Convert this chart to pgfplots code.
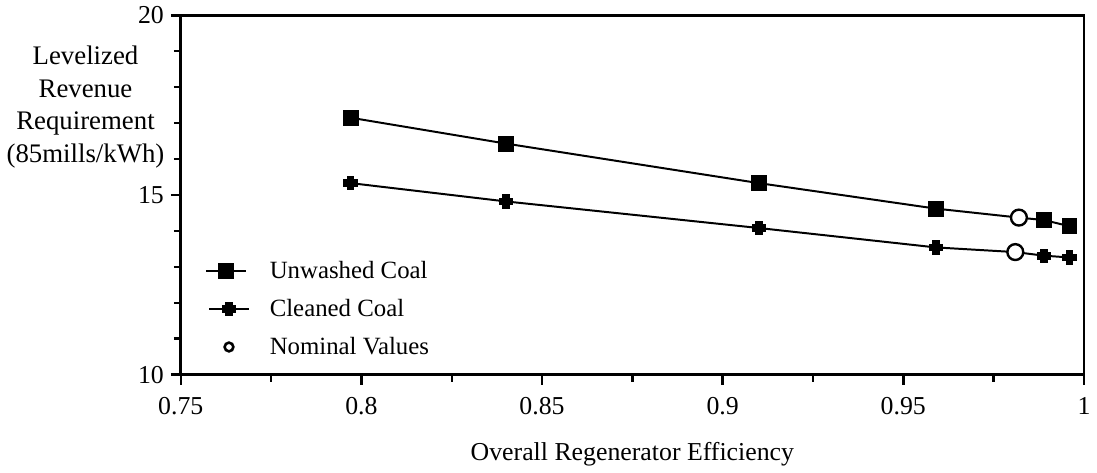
\documentclass[border=0pt]{standalone}
\usepackage{fontspec}
\setmainfont{Liberation Serif}
\usepackage{pgfplots}
\pgfplotsset{compat=1.18}

% chunky cross marker used for the cleaned coal series
\pgfdeclareplotmark{fatcross}{%
  \pgfpathmoveto{\pgfqpoint{-0.5\pgfplotmarksize}{-\pgfplotmarksize}}%
  \pgfpathlineto{\pgfqpoint{0.5\pgfplotmarksize}{-\pgfplotmarksize}}%
  \pgfpathlineto{\pgfqpoint{0.5\pgfplotmarksize}{-0.5\pgfplotmarksize}}%
  \pgfpathlineto{\pgfqpoint{\pgfplotmarksize}{-0.5\pgfplotmarksize}}%
  \pgfpathlineto{\pgfqpoint{\pgfplotmarksize}{0.5\pgfplotmarksize}}%
  \pgfpathlineto{\pgfqpoint{0.5\pgfplotmarksize}{0.5\pgfplotmarksize}}%
  \pgfpathlineto{\pgfqpoint{0.5\pgfplotmarksize}{\pgfplotmarksize}}%
  \pgfpathlineto{\pgfqpoint{-0.5\pgfplotmarksize}{\pgfplotmarksize}}%
  \pgfpathlineto{\pgfqpoint{-0.5\pgfplotmarksize}{0.5\pgfplotmarksize}}%
  \pgfpathlineto{\pgfqpoint{-\pgfplotmarksize}{0.5\pgfplotmarksize}}%
  \pgfpathlineto{\pgfqpoint{-\pgfplotmarksize}{-0.5\pgfplotmarksize}}%
  \pgfpathlineto{\pgfqpoint{-0.5\pgfplotmarksize}{-0.5\pgfplotmarksize}}%
  \pgfpathclose
  \pgfusepathqfillstroke
}

\begin{document}
\begin{tikzpicture}
  \begin{axis}[
    scale only axis,
    width=455pt,
    height=181pt,
    xmin=0.75, xmax=1,
    ymin=10, ymax=20,
    xtick={0.75,0.8,0.85,0.9,0.95,1},
    xticklabels={0.75,0.8,0.85,0.9,0.95,1},
    ytick={10,15,20},
    minor xtick={0.775,0.825,0.875,0.925,0.975},
    minor ytick={11,12,13,14,16,17,18,19},
    tick pos=left,
    tick align=outside,
    major tick length=5pt,
    minor tick length=3.5pt,
    every tick/.style={black, line width=1.2pt},
    axis line style={line width=1.4pt},
    ticklabel style={font=\fontsize{13}{15}\selectfont},
    xticklabel style={yshift=-3pt},
    /pgf/number format/assume math mode=true,
    xlabel={Overall Regenerator Efficiency},
    xlabel style={font=\fontsize{13}{15}\selectfont, yshift=-7pt},
    ylabel={Levelized\\Revenue\\Requirement\\(85mills/kWh)},
    ylabel style={font=\fontsize{13.5}{16.5}\selectfont, rotate=-90, align=center,
      at={(rel axis cs:0,0.745)}, anchor=center, xshift=-48pt},
    legend style={draw=none, fill=none, font=\fontsize{12.5}{14}\selectfont,
      at={(rel axis cs:0.02,0.34)}, anchor=north west, row sep=5pt,
      legend cell align=left,
      /tikz/every odd column/.append style={column sep=8pt}},
  ]
  \addplot[black, line width=1pt, mark=square*, mark size=3.5pt,
    mark indices={1,2,3,4,6,7},
    legend image code/.code={
      \draw[black, line width=1.2pt] (0cm,0) -- (0.7cm,0);
      \draw[black, fill=black] (0.35cm,0) +(-3.5pt,-3.5pt) rectangle +(3.5pt,3.5pt);}]
    coordinates {
    (0.797,17.15) (0.840,16.43) (0.910,15.33) (0.959,14.62)
    (0.982,14.37) (0.989,14.30) (0.996,14.13)
  };
  \addlegendentry{Unwashed Coal}
  \addplot[black, line width=1pt, mark=fatcross, mark size=3.3pt,
    mark options={line width=0.6pt}, mark indices={1,2,3,4,6,7},
    legend image code/.code={
      \draw[black, line width=1.2pt] (0.05cm,0) -- (0.75cm,0);
      \draw[black, fill=black, line width=0.6pt] (0.4cm,0)
        +(-1.65pt,-3.3pt) -- +(1.65pt,-3.3pt) -- +(1.65pt,-1.65pt) -- +(3.3pt,-1.65pt)
        -- +(3.3pt,1.65pt) -- +(1.65pt,1.65pt) -- +(1.65pt,3.3pt) -- +(-1.65pt,3.3pt)
        -- +(-1.65pt,1.65pt) -- +(-3.3pt,1.65pt) -- +(-3.3pt,-1.65pt) -- +(-1.65pt,-1.65pt) -- cycle;}]
    coordinates {
    (0.797,15.33) (0.840,14.82) (0.910,14.08) (0.959,13.54)
    (0.981,13.41) (0.989,13.31) (0.996,13.26)
  };
  \addlegendentry{Cleaned Coal}
  \addplot[only marks, mark=*, mark size=4pt,
    mark options={draw=black, fill=white, line width=1.2pt},
    legend image code/.code={\draw[black, fill=white, line width=1.3pt] (0.4cm,0) circle (2.2pt);}]
    coordinates {(0.982,14.37) (0.981,13.41)};
  \addlegendentry{Nominal Values}
  \end{axis}
\end{tikzpicture}
\end{document}
